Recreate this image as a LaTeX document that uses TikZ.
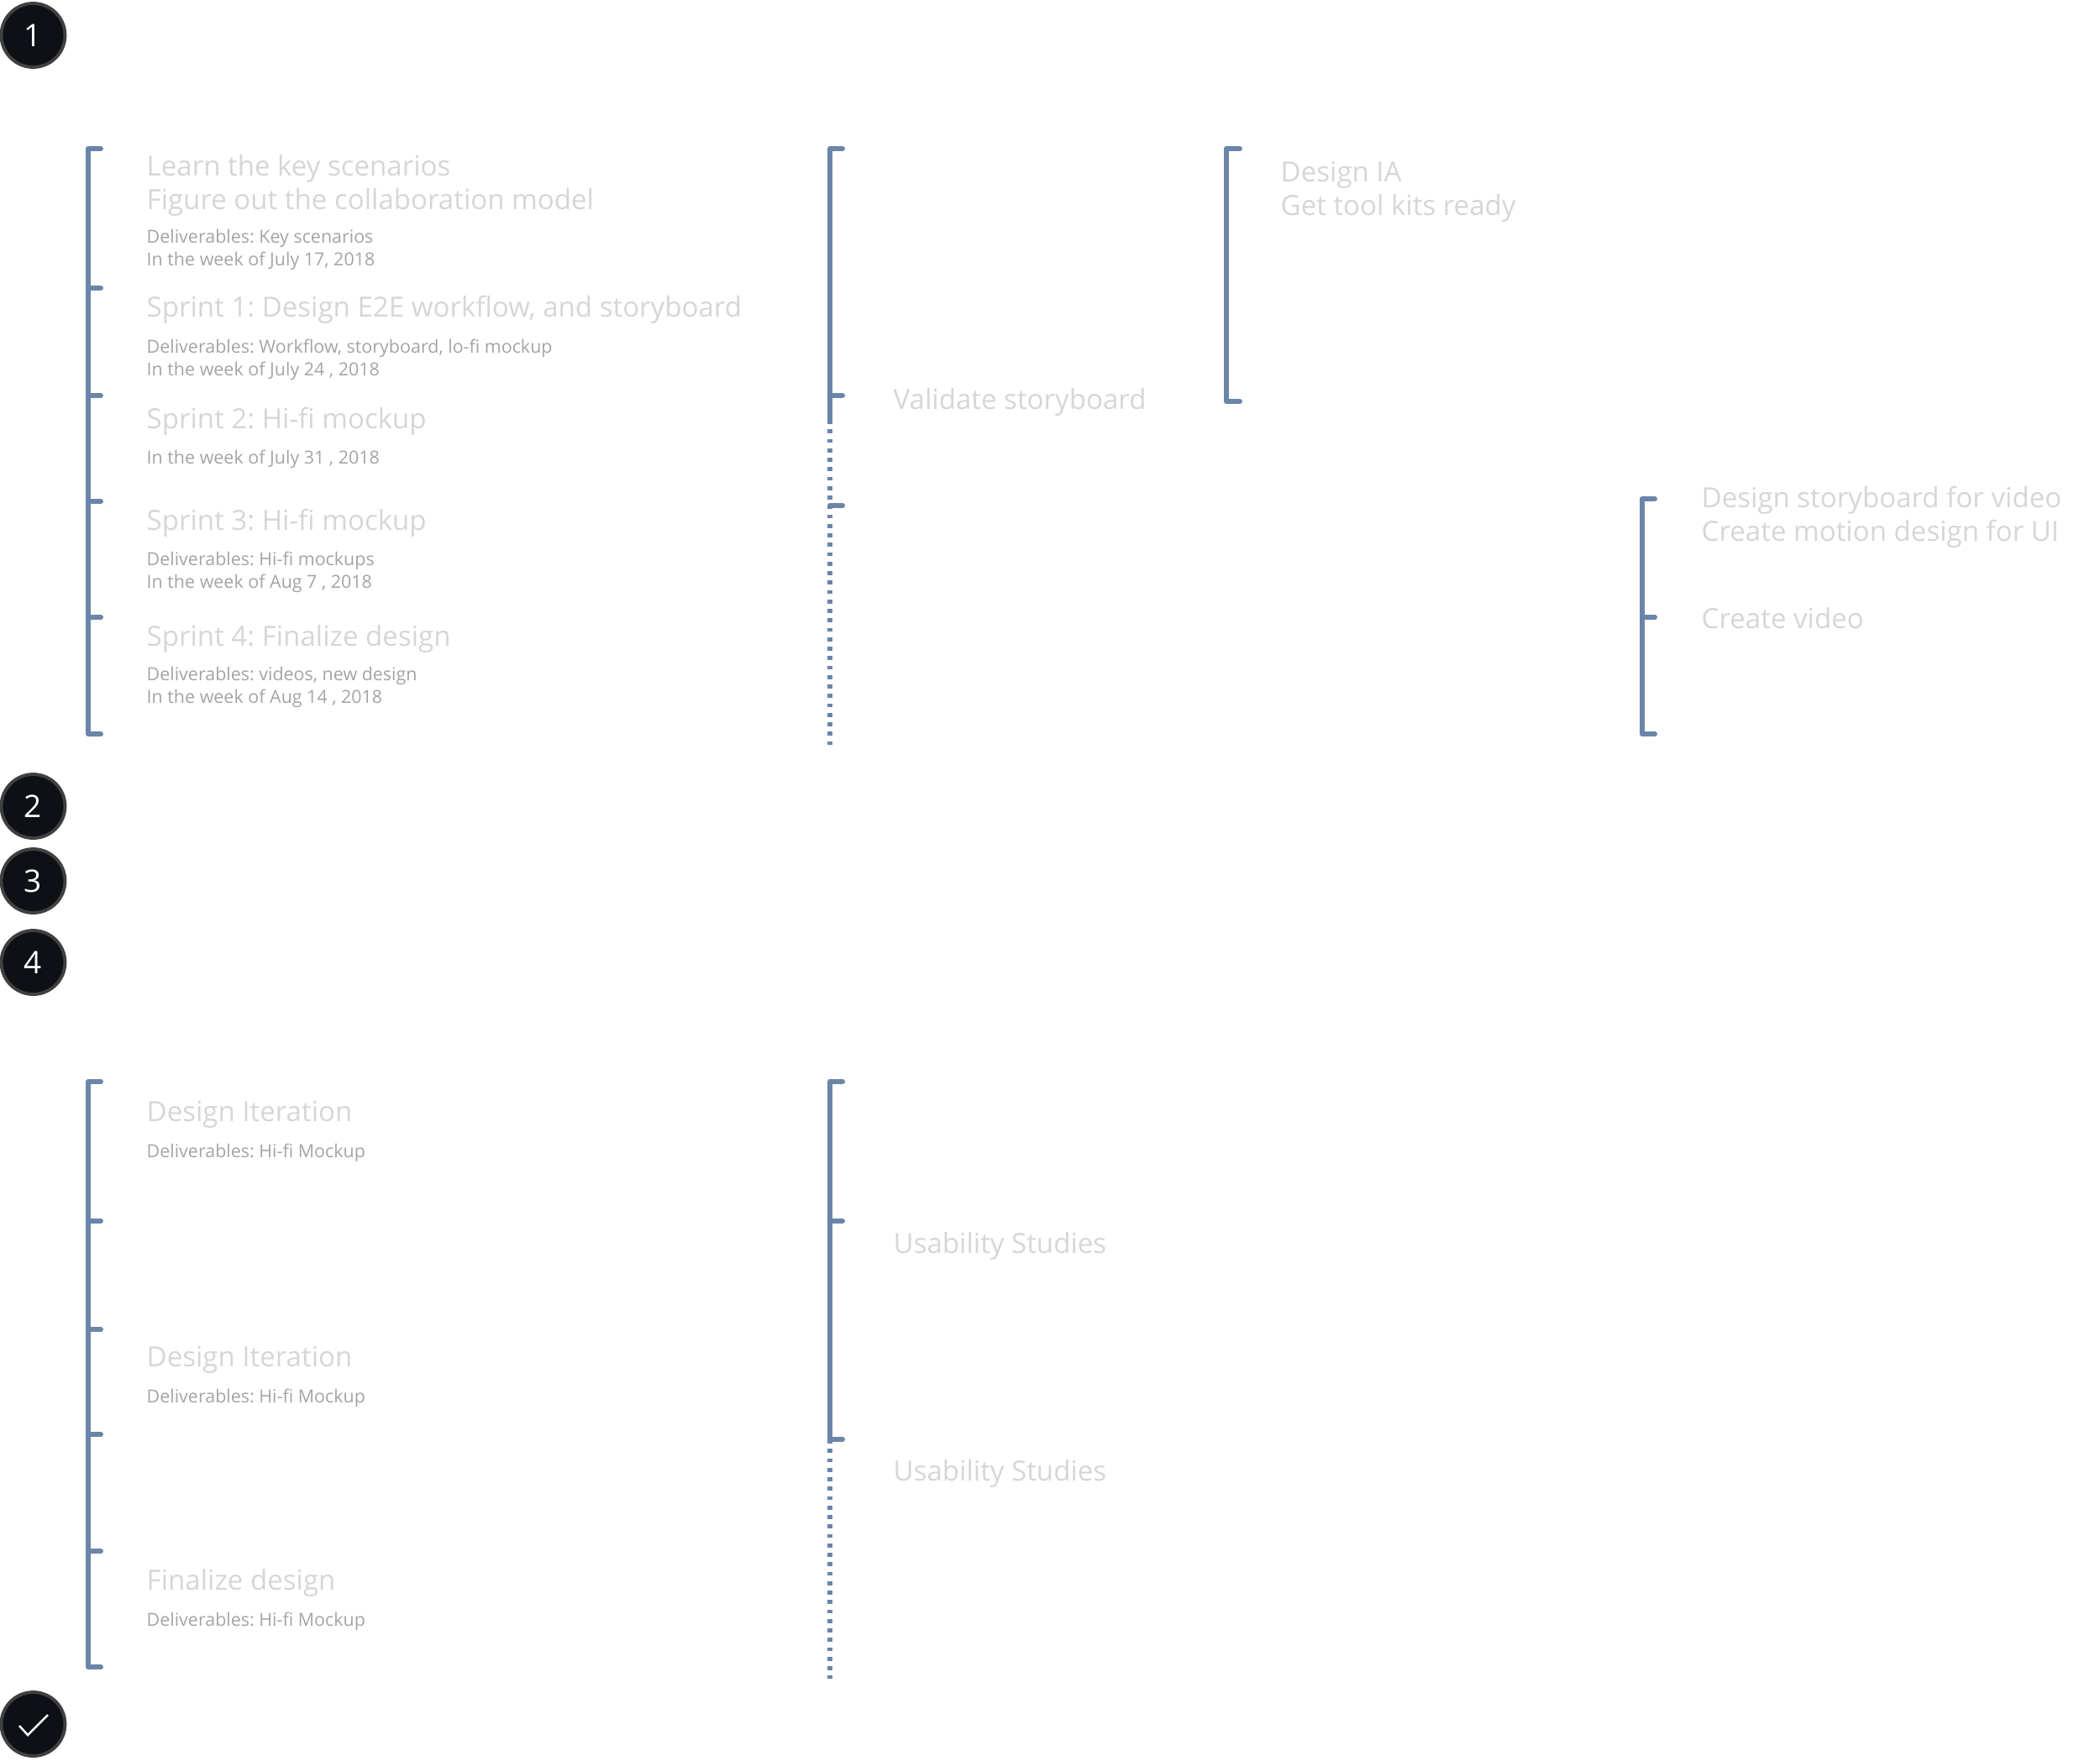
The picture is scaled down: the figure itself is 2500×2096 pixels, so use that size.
\documentclass[tikz,border=0pt]{standalone}
\usepackage{fontspec}
\setmainfont{Open Sans}
\frenchspacing
\definecolor{barblue}{HTML}{6B85A8}
\definecolor{headgray}{HTML}{D6D6D6}
\definecolor{notegray}{HTML}{A4A4A4}
\definecolor{badgefill}{HTML}{0D1116}
\tikzset{
  bar/.style={barblue, line width=1.7pt, line cap=round, line join=round},
  dotbar/.style={barblue, line width=1.5pt, dash pattern=on 1.35pt off 1.85pt},
  head/.style={anchor=base west, inner sep=0pt, text=headgray, font=\fontsize{9.4}{11}\selectfont},
  note/.style={anchor=base west, inner sep=0pt, text=notegray, font=\fontsize{6.1}{8}\selectfont},
  badge/.style={circle, draw=black!75, line width=1.1pt, fill=badgefill, text=white, minimum size=21.6pt, inner sep=0pt, font=\fontsize{10.5}{12}\selectfont}
}
\begin{document}
\begin{tikzpicture}[x=0.01cm, y=-0.01cm]
\useasboundingbox (0,0) rectangle (2500,2096);
% badges
\node[badge] (b1) at (39.5,42) {1};
\node[badge] (b2) at (39.5,960) {2};
\node[badge] (b3) at (39.5,1049) {3};
\node[badge] (b4) at (39.5,1146) {4};
\node[badge] (bdone) at (39.5,2053) {};
\draw[white, line width=0.7pt] (23,2055) -- (33,2066) -- (57,2042);
% upper brackets
\draw[bar] (120,177) -- (105,177) -- (105,874) -- (120,874);
\foreach \y in {343,471,597,735} \draw[bar] (105,\y) -- (120,\y);
\draw[dotbar] (988,500) -- (988,888);
\draw[bar] (1003,177) -- (988,177) -- (988,500);
\draw[bar] (988,471) -- (1003,471);
\draw[bar] (988,602) -- (1003,602);
\draw[bar] (1476,177) -- (1460,177) -- (1460,478) -- (1476,478);
\draw[bar] (1970,594) -- (1955,594) -- (1955,874) -- (1970,874);
\draw[bar] (1955,735) -- (1970,735);
% lower brackets
\draw[bar] (120,1288) -- (105,1288) -- (105,1985) -- (120,1985);
\foreach \y in {1454,1583,1708,1847} \draw[bar] (105,\y) -- (120,\y);
\draw[dotbar] (988,1714) -- (988,1999);
\draw[bar] (1003,1288) -- (988,1288) -- (988,1714) -- (1003,1714);
\draw[bar] (988,1454) -- (1003,1454);
% upper texts
\node[head] (learn) at (174,209.5) {Learn the key scenarios};
\node[head] (model) at (174,249.5) {Figure out the collaboration model};
\node[note] (learnd) at (174,289) {Deliverables: Key scenarios};
\node[note] (learnw) at (174,316) {In the week of July 17, 2018};
\node[head] (sprinta) at (174,377.5) {Sprint 1: Design E2E workflow, and storyboard};
\node[note] (sprintad) at (174,420) {Deliverables: Workflow, storyboard, lo-fi mockup};
\node[note] (sprintaw) at (174,447) {In the week of July 24 , 2018};
\node[head] (sprintb) at (174,510.5) {Sprint 2: Hi-fi mockup};
\node[note] (sprintbw) at (174,552.5) {In the week of July 31 , 2018};
\node[head] (sprintc) at (174,631.5) {Sprint 3: Hi-fi mockup};
\node[note] (sprintcd) at (174,673.5) {Deliverables: Hi-fi mockups};
\node[note] (sprintcw) at (174,700.5) {In the week of Aug 7 , 2018};
\node[head] (sprintd) at (174,769) {Sprint 4: Finalize design};
\node[note] (sprintdd) at (174,810.5) {Deliverables: videos, new design};
\node[note] (sprintdw) at (174,837.5) {In the week of Aug 14 , 2018};
\node[head] (validate) at (1063,487) {Validate storyboard};
\node[head] (ia) at (1524,216.5) {Design IA};
\node[head] (kits) at (1524,256.5) {Get tool kits ready};
\node[head] (video) at (2025,604.5) {Design storyboard for video};
\node[head] (motion) at (2025,644.5) {Create motion design for UI};
\node[head] (create) at (2025,748.5) {Create video};
% lower texts
\node[head] (itera) at (174,1335) {Design Iteration};
\node[note] (iterad) at (174,1378) {Deliverables: Hi-fi Mockup};
\node[head] (iterb) at (174,1627) {Design Iteration};
\node[note] (iterbd) at (174,1670) {Deliverables: Hi-fi Mockup};
\node[head] (final) at (174,1893) {Finalize design};
\node[note] (finald) at (174,1936) {Deliverables: Hi-fi Mockup};
\node[head] (usea) at (1063,1492.5) {Usability Studies};
\node[head] (useb) at (1063,1763) {Usability Studies};
\end{tikzpicture}
\end{document}
